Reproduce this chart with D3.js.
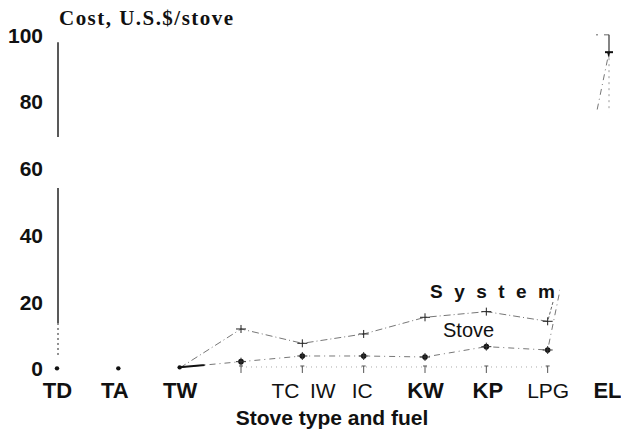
<!DOCTYPE html>
<html>
<head>
<meta charset="utf-8">
<script src="https://cdn.jsdelivr.net/npm/d3@7"></script>
<style>
  body { margin: 0; background: #fff; }
  svg { display: block; }
</style>
</head>
<body>
<svg id="chart" width="621" height="431"></svg>
<script>
// stove type / fuel codes along the bottom
var categories = ["TD", "TA", "TW", "TC", "IW", "IC", "KW", "KP", "LPG", "EL"];
// cost of whole system (stove + accessories), US$ per stove
var systemCost = [null, null, 0.3, 12.0, 7.7, 10.5, 15.5, 17.2, 14.3, 100.2];
// cost of the stove alone
var stoveCost = [0.2, 0.2, 0.5, 2.2, 3.9, 3.9, 3.6, 6.7, 5.7, 95];
// faint lower trace near zero
var lowCost = [null, null, null, 0.6, 0.6, 0.6, 0.6, 0.6, 0.6, null];
var yTicks = [0, 20, 40, 60, 80, 100];

var svg = d3.select("#chart");

// scales
var x = d3.scalePoint().domain(categories).range([57, 609]);
var y = d3.scaleLinear().domain([0, 100]).range([369, 35.5]);

// labels that are printed in a light face, and their nudges in the scan
var lightLabels = ["TC", "IW", "IC", "LPG"];
var labelShift = { TA: -4, TC: 44, IW: 20, IC: -2, KP: 1, EL: -2 };

// clip: hide the lower run of the LPG -> EL segment (lost in the original)
var defs = svg.append("defs");
var clip = defs.append("clipPath").attr("id", "visible");
clip.append("rect").attr("x", 0).attr("y", 0).attr("width", 560).attr("height", 431);
clip.append("rect").attr("x", 560).attr("y", 0).attr("width", 61).attr("height", y(77));

var solidClip = defs.append("clipPath").attr("id", "solidpart");
solidClip.append("rect").attr("x", x("TW")).attr("y", 0).attr("width", 25).attr("height", 431);

////////////////////////////
// y axis

var yAxis = d3.axisLeft(y).tickValues(yTicks).tickSize(0).tickPadding(15);
var gy = svg.append("g").attr("transform", "translate(58,0)").call(yAxis);
gy.select(".domain").remove();
gy.selectAll("text")
  .attr("font-family", "'Liberation Sans', Arial, sans-serif")
  .attr("font-weight", "bold")
  .attr("font-size", 21)
  .attr("fill", "#111");

// broken axis line as in the scan
var axisPieces = [[98, 69.6, null], [54.3, 13.8, null], [13.8, 3.3, "2,3"]];
svg.append("g").selectAll("line")
  .data(axisPieces)
  .enter().append("line")
  .attr("x1", 58).attr("x2", 58)
  .attr("y1", function(d) { return y(d[0]); })
  .attr("y2", function(d) { return y(d[1]); })
  .attr("stroke", "#222")
  .attr("stroke-width", function(d) { return d[2] ? 1 : 1.5; })
  .attr("stroke-dasharray", function(d) { return d[2]; });

svg.append("text")
  .attr("x", 59).attr("y", 25)
  .attr("textLength", 174).attr("lengthAdjust", "spacing")
  .attr("font-family", "'Liberation Serif', 'Times New Roman', serif")
  .attr("font-weight", "bold")
  .attr("font-size", 21)
  .attr("fill", "#111")
  .text("Cost,  U.S.$/stove");

////////////////////////////
// x axis

var xAxis = d3.axisBottom(x).tickSize(0);
var gx = svg.append("g").attr("transform", "translate(0,398)").call(xAxis);
gx.select(".domain").remove();
gx.selectAll("text")
  .attr("y", 0).attr("dy", 0)
  .attr("dx", function(d) { return labelShift[d] || 0; })
  .attr("font-family", "'Liberation Sans', Arial, sans-serif")
  .attr("font-weight", function(d) { return lightLabels.indexOf(d) >= 0 ? "normal" : "bold"; })
  .attr("font-size", function(d) { return lightLabels.indexOf(d) >= 0 ? 21 : 22; })
  .attr("fill", "#111");

svg.append("text")
  .attr("x", 332).attr("y", 425)
  .attr("text-anchor", "middle")
  .attr("font-family", "'Liberation Sans', Arial, sans-serif")
  .attr("font-weight", "bold")
  .attr("font-size", 21)
  .attr("fill", "#111")
  .text("Stove type and fuel");

////////////////////////////
// lines

function points(values) {
  return categories.map(function(c, i) { return { cat: c, v: values[i], i: i }; });
}

var line = d3.line()
  .defined(function(d) { return d.v !== null && d.i >= 2; })
  .x(function(d) { return x(d.cat); })
  .y(function(d) { return y(d.v); });

var systemPts = points(systemCost);
var stovePts = points(stoveCost);
var lowPts = points(lowCost);

// system line stops at LPG in the figure
svg.append("path")
  .datum(systemPts.filter(function(d) { return d.i <= 8; }))
  .attr("d", line)
  .attr("fill", "none")
  .attr("stroke", "#777")
  .attr("stroke-width", 1)
  .attr("stroke-dasharray", "7,3,1,3");

svg.append("path")
  .datum(stovePts)
  .attr("d", line)
  .attr("clip-path", "url(#visible)")
  .attr("fill", "none")
  .attr("stroke", "#777")
  .attr("stroke-width", 1)
  .attr("stroke-dasharray", "6,4,1,4");

svg.append("path")
  .datum(stovePts)
  .attr("d", line)
  .attr("clip-path", "url(#solidpart)")
  .attr("fill", "none")
  .attr("stroke", "#111")
  .attr("stroke-width", 2);

svg.append("path")
  .datum(lowPts)
  .attr("d", line)
  .attr("fill", "none")
  .attr("stroke", "#aaa")
  .attr("stroke-width", 1)
  .attr("stroke-dasharray", "1,4");

// small T ticks on the low trace
var lowDef = lowPts.filter(function(d) { return d.v !== null; });
var tMarks = svg.append("g").attr("stroke", "#555").attr("stroke-width", 1);
lowDef.forEach(function(d) {
  var px = x(d.cat), py = y(d.v) - 1;
  tMarks.append("line").attr("x1", px - 2).attr("x2", px + 2).attr("y1", py).attr("y2", py);
  tMarks.append("line").attr("x1", px).attr("x2", px).attr("y1", py).attr("y2", py + 7);
});

// EL: system to stove range and dotted drop below
var el = x("EL");
svg.append("line")
  .attr("x1", el - 13).attr("x2", el)
  .attr("y1", y(systemCost[9])).attr("y2", y(systemCost[9]))
  .attr("stroke", "#666").attr("stroke-dasharray", "2,6,9,0");
svg.append("line")
  .attr("x1", el).attr("x2", el)
  .attr("y1", y(systemCost[9])).attr("y2", y(stoveCost[9]))
  .attr("stroke", "#333").attr("stroke-width", 1.2);
svg.append("line")
  .attr("x1", el).attr("x2", el)
  .attr("y1", y(stoveCost[9])).attr("y2", y(77))
  .attr("stroke", "#999").attr("stroke-dasharray", "2,4");

////////////////////////////
// markers

var sysMarks = svg.append("g").attr("stroke", "#222").attr("stroke-width", 1);
systemPts.filter(function(d) { return d.v !== null && d.i >= 3 && d.i <= 8; }).forEach(function(d) {
  var px = x(d.cat), py = y(d.v);
  sysMarks.append("line").attr("x1", px - 5).attr("x2", px + 5).attr("y1", py).attr("y2", py);
  sysMarks.append("line").attr("x1", px).attr("x2", px).attr("y1", py - 4).attr("y2", py + 4);
});

var stoveMarks = svg.append("g");
stovePts.forEach(function(d) {
  var px = x(d.cat), py = y(d.v);
  if (d.i < 9) {
    stoveMarks.append("circle").attr("cx", px).attr("cy", py).attr("r", d.i < 3 ? 2.2 : 2.8).attr("fill", "#111");
    if (d.i >= 3) {
      stoveMarks.append("line").attr("x1", px - 5).attr("x2", px + 5).attr("y1", py).attr("y2", py)
        .attr("stroke", "#333").attr("stroke-width", 1);
      stoveMarks.append("line").attr("x1", px).attr("x2", px).attr("y1", py - 4).attr("y2", py + 4)
        .attr("stroke", "#333").attr("stroke-width", 1);
    }
  } else {
    stoveMarks.append("line").attr("x1", px - 4).attr("x2", px + 4).attr("y1", py).attr("y2", py)
      .attr("stroke", "#111").attr("stroke-width", 2);
    stoveMarks.append("path")
      .attr("d", "M" + (px - 2) + "," + py + "L" + (px + 1) + "," + py + "L" + px + "," + (py + 6) + "Z")
      .attr("fill", "#111");
  }
});

////////////////////////////
// series labels

svg.append("text")
  .attr("x", 430).attr("y", 298)
  .attr("textLength", 125).attr("lengthAdjust", "spacing")
  .attr("font-family", "'Liberation Sans', Arial, sans-serif")
  .attr("font-weight", "bold")
  .attr("font-size", 19)
  .attr("fill", "#111")
  .text("System");

svg.append("line")
  .attr("x1", 553).attr("y1", 302)
  .attr("x2", x("LPG")).attr("y2", y(systemCost[8]))
  .attr("stroke", "#666").attr("stroke-dasharray", "3,2");

svg.append("text")
  .attr("x", 443).attr("y", 337)
  .attr("font-family", "'Liberation Sans', Arial, sans-serif")
  .attr("font-size", 20)
  .attr("fill", "#111")
  .text("Stove");
</script>
</body>
</html>
